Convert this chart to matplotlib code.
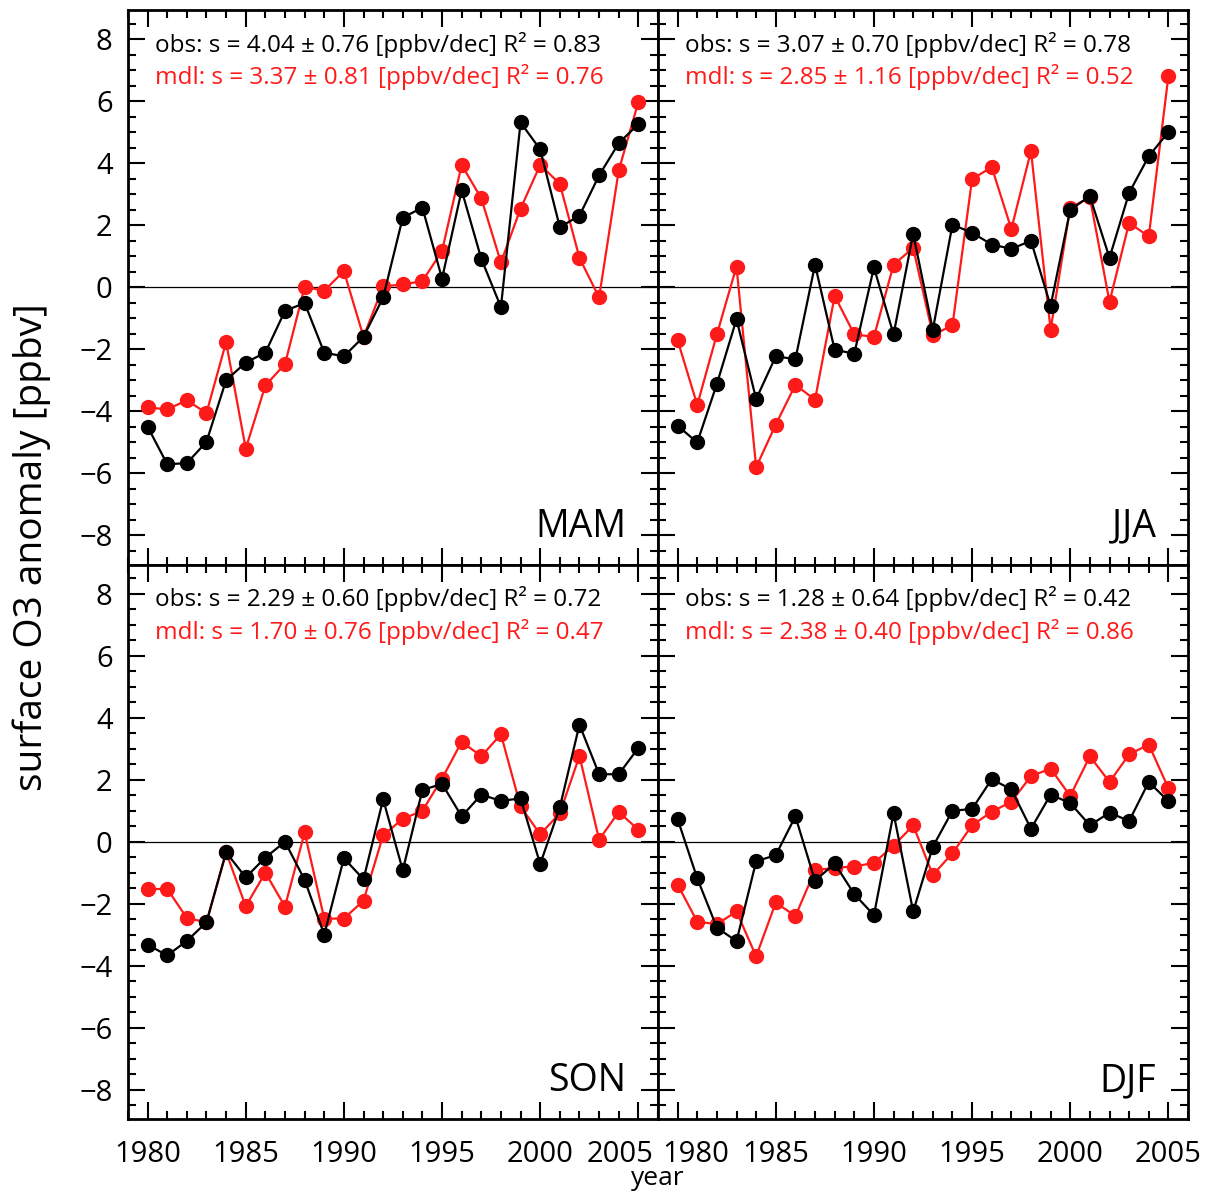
import numpy as np
import matplotlib.pyplot as plt
import matplotlib.transforms as mtransforms
from matplotlib.ticker import MultipleLocator

plt.rcParams["font.family"] = ["Open Sans", "DejaVu Sans"]

years = np.arange(1980, 2006)
seasons = ["MAM", "JJA", "SON", "DJF"]

# observed anomalies (black)
obs_mam = [-4.50, -5.71, -5.68, -4.99, -3.00, -2.43, -2.11, -0.76, -0.51, -2.11,
           -2.23, -1.60, -0.33, 2.25, 2.57, 0.28, 3.13, 0.92, -0.64, 5.32,
           4.45, 1.94, 2.31, 3.61, 4.65, 5.27]
obs_jja = [-4.47, -5.01, -3.12, -1.03, -3.61, -2.23, -2.32, 0.73, -2.02, -2.14,
           0.64, -1.52, 1.73, -1.37, 2.02, 1.76, 1.38, 1.24, 1.50, -0.60,
           2.50, 2.94, 0.95, 3.05, 4.23, 5.01]
obs_son = [-3.32, -3.67, -3.20, -2.60, -0.34, -1.15, -0.51, 0.00, -1.23, -3.00,
           -0.53, -1.21, 1.37, -0.92, 1.67, 1.87, 0.82, 1.52, 1.32, 1.40,
           -0.72, 1.11, 3.78, 2.18, 2.18, 3.03]
obs_djf = [0.73, -1.18, -2.77, -3.21, -0.63, -0.43, 0.82, -1.26, -0.70, -1.69,
           -2.37, 0.92, -2.25, -0.16, 1.00, 1.06, 2.02, 1.69, 0.42, 1.52,
           1.25, 0.53, 0.94, 0.67, 1.93, 1.31]

# model anomalies (red)
mdl_mam = [-3.88, -3.94, -3.65, -4.06, -1.77, -5.21, -3.17, -2.48, 0.01, -0.11,
           0.52, -1.60, 0.03, 0.09, 0.20, 1.17, 3.95, 2.87, 0.80, 2.54,
           3.95, 3.34, 0.95, -0.33, 3.77, 5.98]
mdl_jja = [-1.71, -3.80, -1.52, 0.67, -5.81, -4.43, -3.15, -3.63, -0.28, -1.52,
           -1.60, 0.73, 1.27, -1.54, -1.23, 3.49, 3.88, 1.88, 4.40, -1.37,
           2.57, 2.90, -0.47, 2.08, 1.64, 6.82]
mdl_son = [-1.53, -1.52, -2.46, -2.60, -0.34, -2.08, -1.00, -2.09, 0.30, -2.48,
           -2.48, -1.90, 0.21, 0.74, 1.00, 2.04, 3.23, 2.76, 3.47, 1.14,
           0.24, 0.92, 2.77, 0.07, 0.96, 0.39]
mdl_djf = [-1.38, -2.58, -2.66, -2.25, -3.70, -1.96, -2.40, -0.92, -0.84, -0.80,
           -0.68, -0.13, 0.53, -1.07, -0.37, 0.53, 0.97, 1.29, 2.12, 2.36,
           1.48, 2.76, 1.93, 2.82, 3.14, 1.73]

obs_text = ["obs: s = 4.04 \u00b1 0.76 [ppbv/dec] R\u00b2 = 0.83",
            "obs: s = 3.07 \u00b1 0.70 [ppbv/dec] R\u00b2 = 0.78",
            "obs: s = 2.29 \u00b1 0.60 [ppbv/dec] R\u00b2 = 0.72",
            "obs: s = 1.28 \u00b1 0.64 [ppbv/dec] R\u00b2 = 0.42"]
mdl_text = ["mdl: s = 3.37 \u00b1 0.81 [ppbv/dec] R\u00b2 = 0.76",
            "mdl: s = 2.85 \u00b1 1.16 [ppbv/dec] R\u00b2 = 0.52",
            "mdl: s = 1.70 \u00b1 0.76 [ppbv/dec] R\u00b2 = 0.47",
            "mdl: s = 2.38 \u00b1 0.40 [ppbv/dec] R\u00b2 = 0.86"]

obs_all = [obs_mam, obs_jja, obs_son, obs_djf]
mdl_all = [mdl_mam, mdl_jja, mdl_son, mdl_djf]

red = "#ff1a1a"

fig, axes = plt.subplots(2, 2, figsize=(12.15, 11.93), dpi=100,
                         sharex=True, sharey=True)
fig.subplots_adjust(left=0.1053, right=0.9778, top=0.9916, bottom=0.0620,
                    wspace=0, hspace=0)

for i, ax in enumerate(axes.flat):
    ax.axhline(0, color="black", lw=0.9, zorder=1)
    ax.plot(years, obs_all[i], color="black", lw=1.6, marker="o", ms=10, zorder=3)
    ax.plot(years, mdl_all[i], color=red, lw=1.6, marker="o", ms=10, zorder=2)

    ax.text(0.051, 0.937, obs_text[i], transform=ax.transAxes, fontsize=17.5,
            color="black", va="center", ha="left")
    ax.text(0.051, 0.879, mdl_text[i], transform=ax.transAxes, fontsize=17.5,
            color=red, va="center", ha="left")
    ax.text(0.94, 0.05, seasons[i], transform=ax.transAxes, fontsize=27,
            ha="right", va="baseline")

    ax.set_xlim(1979, 2006)
    ax.set_ylim(-8.95, 8.95)
    ax.xaxis.set_major_locator(MultipleLocator(5))
    ax.xaxis.set_minor_locator(MultipleLocator(1))
    ax.yaxis.set_major_locator(MultipleLocator(2))
    ax.yaxis.set_minor_locator(MultipleLocator(0.5))
    ax.tick_params(which="both", direction="in", top=True, right=True,
                   width=1.5, labelsize=21)
    ax.tick_params(which="major", length=12)
    ax.tick_params(which="minor", length=6)
    ax.tick_params(axis="x", pad=15)
    ax.tick_params(axis="y", pad=11)
    for sp in ax.spines.values():
        sp.set_linewidth(2)

for ax in axes[0, :]:
    ax.tick_params(labelbottom=False)
for ax in axes[:, 1]:
    ax.tick_params(labelleft=False)

fig.text(0.026, 0.5415, "surface O3 anomaly [ppbv]", rotation=90, fontsize=28,
         ha="center", va="center")
fig.text(0.5416, 0.0125, "year", fontsize=19, ha="center", va="center")

# nudge the touching 2005 | 1980 labels apart, as in the original
fig.canvas.draw()
shift_left = mtransforms.ScaledTranslation(-13.5 / 72, 0, fig.dpi_scale_trans)
shift_right = mtransforms.ScaledTranslation(13 / 72, 0, fig.dpi_scale_trans)
for lab in axes[1, 0].get_xticklabels():
    if lab.get_text() == "2005":
        lab.set_transform(lab.get_transform() + shift_left)
for lab in axes[1, 1].get_xticklabels():
    if lab.get_text() == "1980":
        lab.set_transform(lab.get_transform() + shift_right)

fig.savefig("out.png", dpi=100)
